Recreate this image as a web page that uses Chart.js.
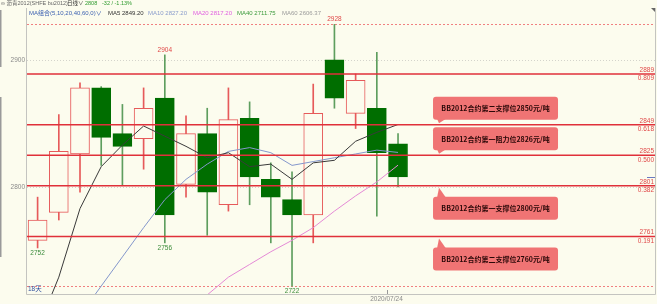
<!DOCTYPE html>
<html>
<head>
<meta charset="utf-8">
<script src="https://cdn.jsdelivr.net/npm/chart.js@4/dist/chart.umd.min.js"></script>
<style>
  html, body { margin: 0; padding: 0; background: #fcfcee; }
  #wrap { position: relative; width: 657px; height: 304px; }
</style>
</head>
<body>
<div id="wrap"><canvas id="chart-bu2012"></canvas></div>
<script>
// bu2012 daily bars, index 0 = first visible bar
const barIndex = [0, 1, 2, 3, 4, 5, 6, 7, 8, 9, 10, 11, 12, 13, 14, 15, 16, 17];
const opens  = [2758, 2780, 2826, 2878, 2842, 2838, 2870, 2802, 2842, 2786, 2854, 2806, 2790, 2778, 2900, 2858, 2862, 2834];
const highs  = [2792, 2857, 2882, 2879, 2865, 2878, 2904, 2856, 2862, 2878, 2867, 2819, 2812, 2881, 2928, 2889, 2906, 2842];
const lows   = [2752, 2774, 2796, 2817, 2801, 2814, 2756, 2792, 2762, 2781, 2786, 2756, 2722, 2756, 2862, 2846, 2777, 2800];
const closes = [2774, 2828, 2878, 2839, 2832, 2862, 2778, 2842, 2796, 2853, 2808, 2792, 2778, 2858, 2870, 2884, 2827, 2808];

// moving averages (null = below the visible window)
const ma5  = [2688, 2729, 2783, 2816, 2833, 2848, 2840, 2832, 2823, 2827, 2816, 2818, 2806, 2819, 2821, 2836, 2843, 2849.2];
const ma10 = [null, null, 2699, 2722, 2745, 2768, 2790, 2806, 2818, 2828, 2831, 2827, 2817, 2820, 2823, 2826, 2829, 2827.2];
const ma20 = [null, null, null, null, null, null, null, 2700, 2715, 2729, 2739, 2749, 2758, 2768, 2781, 2793, 2804, 2817.2];

// header
const maNames = ['MA5', 'MA10', 'MA20', 'MA40', 'MA60'];
const maLast  = ['2849.20', '2827.20', '2817.20', '2711.75', '2606.37'];

// golden section levels drawn on the chart
const fibLevels = [2889, 2849, 2825, 2801, 2761];
const fibRatios = ['0.809', '0.618', '0.500', '0.382', '0.191'];

// callouts
const calloutLevels = [2849, 2825, 2801, 2761];
const calloutTexts = [
  'BB2012合约第二支撑位2850元/吨',
  'BB2012合约第一阻力位2826元/吨',
  'BB2012合约第一支撑位2800元/吨',
  'BB2012合约第二支撑位2760元/吨'
];
const calloutSides = ['above', 'above', 'below', 'below'];

// marked extremes [bar, value]
const highMarks = [[6, 2904], [14, 2928]];
const lowMarks  = [[0, 2752], [6, 2756], [12, 2722]];

const yTicks = [2800, 2900];
const xTickPos = [16.5];
const xTickLabels = ['2020/07/24'];

const BG = '#fcfcee';
const UP = '#e65a5a';
const DOWN = '#006e00';
const DOWN_WICK = '#5e9e5e';
const LEVEL = '#e0303a';

const isUp = i => closes[i] >= opens[i];
const FONT = '"Liberation Sans", "Noto Sans CJK SC", sans-serif';

const decor = {
  id: 'decor',
  beforeDraw(chart) {
    const ctx = chart.ctx;
    ctx.save();
    ctx.fillStyle = BG;
    ctx.fillRect(0, 0, chart.width, chart.height);
    ctx.restore();
  },
  beforeDatasetsDraw(chart) {
    const {ctx, chartArea: a, scales: {y}} = chart;
    ctx.save();
    ctx.lineWidth = 1;
    // dotted grid
    ctx.strokeStyle = '#d4d4cc';
    ctx.setLineDash([1, 2]);
    yTicks.forEach(v => {
      const py = Math.round(y.getPixelForValue(v)) + 0.5;
      ctx.beginPath(); ctx.moveTo(a.left, py); ctx.lineTo(a.right, py); ctx.stroke();
    });
    // period high / low
    ctx.strokeStyle = '#f08080';
    ctx.setLineDash([2, 2]);
    [Math.max(...highs), Math.min(...lows)].forEach(v => {
      const py = Math.round(y.getPixelForValue(v)) + 0.5;
      ctx.beginPath(); ctx.moveTo(a.left, py); ctx.lineTo(a.right, py); ctx.stroke();
    });
    ctx.restore();
  },
  afterDatasetsDraw(chart) {
    const {ctx, chartArea: a, scales: {x, y}} = chart;
    ctx.save();

    // frame
    ctx.strokeStyle = '#c4c4c0';
    ctx.lineWidth = 1;
    ctx.beginPath();
    ctx.moveTo(a.left - 0.5, a.top); ctx.lineTo(a.left - 0.5, a.bottom + 0.5);
    ctx.lineTo(a.right + 0.5, a.bottom + 0.5); ctx.lineTo(a.right + 0.5, a.top);
    ctx.stroke();

    // golden section lines
    ctx.strokeStyle = LEVEL;
    ctx.lineWidth = 1.6;
    ctx.font = '6.5px ' + FONT;
    ctx.textAlign = 'right';
    ctx.textBaseline = 'middle';
    fibLevels.forEach((v, k) => {
      const py = y.getPixelForValue(v);
      ctx.beginPath(); ctx.moveTo(a.left, py); ctx.lineTo(a.right, py); ctx.stroke();
      ctx.fillStyle = '#e04848';
      ctx.fillText(String(v), a.right - 1, py - 4);
      ctx.fillText(fibRatios[k], a.right - 1, py + 4.5);
    });

    // y labels
    ctx.fillStyle = '#8a8a8a';
    ctx.textAlign = 'right';
    yTicks.forEach(v => ctx.fillText(String(v), a.left - 2, y.getPixelForValue(v)));

    // x tick
    ctx.strokeStyle = '#999';
    ctx.lineWidth = 1;
    ctx.textAlign = 'center';
    xTickPos.forEach((p, k) => {
      const px = Math.round(x.getPixelForValue(p)) + 0.5;
      ctx.beginPath(); ctx.moveTo(px, a.bottom - 4); ctx.lineTo(px, a.bottom); ctx.stroke();
      ctx.fillStyle = '#8a8a8a';
      ctx.fillText(xTickLabels[k], px - 1, a.bottom + 5.5);
    });

    // extremes
    ctx.fillStyle = '#e04848';
    highMarks.forEach(([i, v]) => ctx.fillText(String(v), x.getPixelForValue(i), y.getPixelForValue(v) - 5));
    ctx.fillStyle = '#3c8c3c';
    lowMarks.forEach(([i, v]) => ctx.fillText(String(v), x.getPixelForValue(i), y.getPixelForValue(v) + 5));

    // callouts
    const bx = x.getPixelForValue(18.65), bw = 125, bh = 23;
    calloutLevels.forEach((v, k) => {
      const ly = y.getPixelForValue(v);
      const above = calloutSides[k] === 'above';
      const by = above ? ly - 5 - bh : ly + 11;
      ctx.fillStyle = '#f07474';
      ctx.beginPath();
      ctx.roundRect(bx, by, bw, bh, 3);
      ctx.fill();
      // pointer
      ctx.beginPath();
      if (above) {
        ctx.moveTo(bx + 4, by + bh - 1); ctx.lineTo(bx + 13, by + bh - 1); ctx.lineTo(bx + 6, ly - 1.5);
      } else {
        ctx.moveTo(bx + 4, by + 1); ctx.lineTo(bx + 13, by + 1); ctx.lineTo(bx + 6, ly + 2);
      }
      ctx.closePath();
      ctx.fill();
      ctx.fillStyle = '#2a0808';
      ctx.font = 'bold 7px "Noto Sans CJK SC", ' + FONT;
      ctx.textAlign = 'center';
      ctx.fillText(calloutTexts[k], bx + bw / 2, by + bh / 2 + 0.5);
    });

    // header lines
    ctx.textAlign = 'left';
    ctx.font = '5.5px ' + FONT;
    ctx.fillStyle = '#666';
    ctx.fillText('∞ 沥青2012(SHFE bu2012)', 1, 3.5);
    ctx.fillStyle = '#333';
    ctx.fillText('日线∨', 67, 3.5);
    ctx.fillStyle = '#2e9a2e';
    ctx.fillText(String(closes[closes.length - 1]), 85, 3.5);
    ctx.fillText('-32 / -1.13%', 102, 3.5);

    ctx.font = '6px ' + FONT;
    ctx.fillStyle = '#3a5fb0';
    ctx.fillText('MA组合(5,10,20,40,60,0)∨', 29, 13.5);
    const maColors = ['#333', '#8a9ccc', '#e060e0', '#3c9a3c', '#9a9a9a'];
    const maX = [108, 148, 193, 237, 282];
    maNames.forEach((n, k) => {
      ctx.fillStyle = maColors[k];
      ctx.fillText(n + ' ' + maLast[k], maX[k], 13.5);
    });

    // bits of the terminal UI
    ctx.fillStyle = '#9a9a9a';
    ctx.fillRect(0, 10, 1.5, 57);
    ctx.fillRect(0, 97, 1.5, 160);
    ctx.fillStyle = '#666';
    ctx.beginPath(); ctx.moveTo(651, 8); ctx.lineTo(655, 8); ctx.lineTo(655, 12); ctx.closePath(); ctx.fill();
    ctx.strokeStyle = '#6a7ac0';
    const cy = Math.round(y.getPixelForValue(closes[closes.length - 1])) + 0.5;
    ctx.beginPath(); ctx.moveTo(a.right - 8, cy); ctx.lineTo(a.right, cy); ctx.stroke();
    ctx.fillStyle = '#3050a0';
    ctx.font = '6.5px ' + FONT;
    ctx.fillText('18天', a.left + 1, a.bottom - 4.5);

    ctx.restore();
  }
};

const maLine = (values, color) => ({
  type: 'line',
  data: barIndex.map(i => ({x: i, y: values[i]})),
  borderColor: color,
  borderWidth: 1,
  pointRadius: 0,
  tension: 0,
  order: 1
});

new Chart(document.getElementById('chart-bu2012'), {
  type: 'bar',
  data: {
    datasets: [
      {
        // wicks
        data: barIndex.map(i => ({x: i, y: [lows[i], highs[i]]})),
        backgroundColor: ctx => isUp(ctx.dataIndex) ? UP : DOWN_WICK,
        borderWidth: 0,
        barThickness: 1,
        grouped: false,
        order: 3
      },
      {
        // bodies
        data: barIndex.map(i => ({x: i, y: [opens[i], closes[i]]})),
        backgroundColor: ctx => isUp(ctx.dataIndex) ? BG : DOWN,
        borderColor: ctx => isUp(ctx.dataIndex) ? UP : DOWN,
        borderWidth: 1,
        borderSkipped: false,
        barThickness: 19,
        grouped: false,
        order: 2
      },
      maLine(ma5, '#3a3a3a'),
      maLine(ma10, '#8497cc'),
      maLine(ma20, '#e58ad6')
    ]
  },
  options: {
    responsive: true,
    maintainAspectRatio: false,
    animation: false,
    events: [],
    layout: { padding: { left: 27, right: 2, top: 8, bottom: 10 } },
    plugins: {
      legend: { display: false },
      tooltip: { enabled: false }
    },
    scales: {
      x: { type: 'linear', min: -0.5, max: 29.12, offset: false, display: false },
      y: { min: 2715.75, max: 2940.9, display: false }
    }
  },
  plugins: [decor]
});
</script>
</body>
</html>
